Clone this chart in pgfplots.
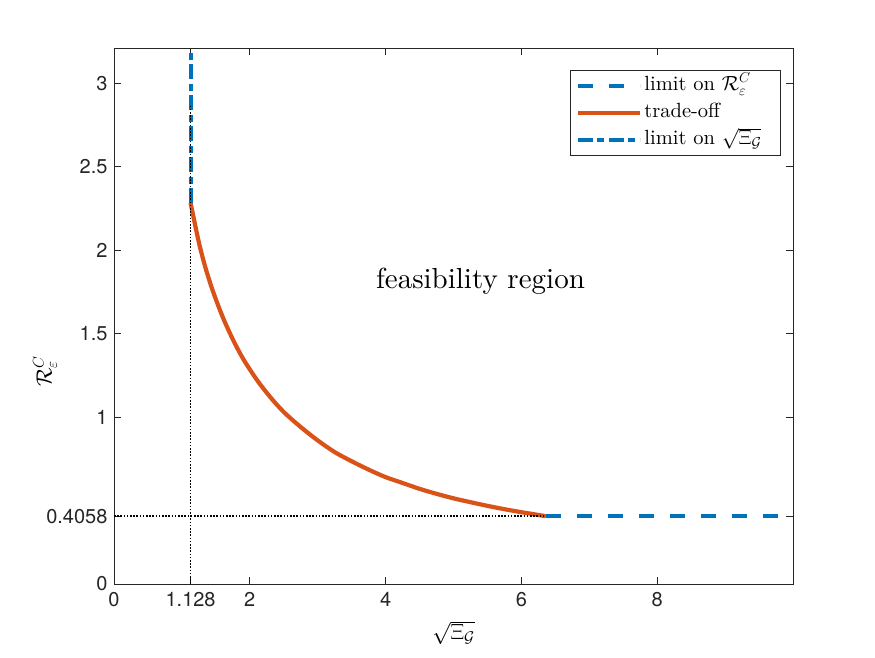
\RequirePackage{fix-cm}
\documentclass[border=0pt]{standalone}
\usepackage{fontspec}
\setmainfont{lmroman10-regular.otf}[BoldFont=lmroman10-bold.otf, ItalicFont=lmroman10-italic.otf]
\usepackage{pgfplots}
\pgfplotsset{compat=1.18}
\newfontfamily\heros{TeX Gyre Heros}
\definecolor{mblue}{rgb}{0,0.447,0.741}
\definecolor{morange}{rgb}{0.85,0.325,0.098}
\definecolor{axgray}{rgb}{0.15,0.15,0.15}

\begin{document}
\begin{tikzpicture}
\path[use as bounding box] (-114pt,-73pt) rectangle (761pt,584pt);
\begin{axis}[
  at={(0pt,0pt)}, anchor=south west,
  scale only axis, width=679pt, height=536pt,
  xmin=0, xmax=10, ymin=0, ymax=3.21,
  xtick={0,1.128,2,4,6,8},
  xticklabels={0,1.128,2,4,6,8},
  ytick={0,0.4058,1,1.5,2,2.5,3},
  yticklabels={0,0.4058,1,1.5,2,2.5,3},
  tick align=inside, major tick length=7pt,
  axis line style={axgray, line width=0.8pt},
  every tick/.style={axgray, line width=0.8pt},
  tick label style={font=\heros\fontsize{20}{24}\selectfont, text=axgray},
  xticklabel style={yshift=-5pt},
  yticklabel style={xshift=-3pt},
  xlabel={$\sqrt{\Xi_{\mathcal{G}}}$},
  xlabel style={font=\fontsize{22}{26}\selectfont, at={(axis description cs:0.5,-0.0914)}, anchor=center},
  ylabel={$\mathcal{R}^C_\varepsilon$},
  ylabel style={font=\fontsize{22}{26}\selectfont, at={(axis description cs:-0.1016,0.397)}, anchor=center},
  legend style={at={(rel axis cs:0.982,0.959)}, anchor=north east,
    draw=axgray, line width=0.8pt, fill=white, inner sep=2pt, row sep=0pt,
    font=\fontsize{20.5}{24}\selectfont,
    nodes={inner sep=2pt, text height=16pt, text depth=7pt, text width=132pt}},
  legend cell align=left,
  legend image code/.code={\path (-4pt,0pt); \draw[#1] (0pt,0pt) -- (62pt,0pt);},
]
% lower limit on the cost
\addplot[mblue, line width=4pt, dash pattern=on 15pt off 16pt]
  coordinates {(6.36,0.4058) (10,0.4058)};
\addlegendentry{limit on $\mathcal{R}^C_\varepsilon$}
% trade-off curve
\addplot[morange, line width=4.2pt, line join=round, smooth, tension=0.5] coordinates {
  (1.128,2.283) (1.2,2.14) (1.265,2.02) (1.35,1.89) (1.46,1.75)
  (1.6,1.60) (1.75,1.465) (1.9,1.35) (2.1,1.225) (2.3,1.12)
  (2.5,1.03) (2.75,0.94) (3.0,0.86) (3.25,0.79) (3.5,0.735)
  (3.75,0.685) (4.0,0.64) (4.25,0.605) (4.5,0.57) (4.75,0.54)
  (5.0,0.513) (5.25,0.49) (5.5,0.468) (5.75,0.448) (6.0,0.43)
  (6.2,0.417) (6.36,0.4058)};
\addlegendentry{trade-off}
% lower limit on the distortion
\addplot[mblue, line width=4pt, dash pattern=on 15pt off 4pt on 7pt off 5pt]
  coordinates {(1.128,2.283) (1.128,3.21)};
\addlegendentry{limit on $\sqrt{\Xi_{\mathcal{G}}}$}
% guide lines
\addplot[black, line width=1.6pt, dash pattern=on 1.6pt off 1.6pt, forget plot]
  coordinates {(0,0.4058) (6.36,0.4058)};
\addplot[black, line width=1.6pt, dash pattern=on 1.6pt off 1.6pt, forget plot]
  coordinates {(1.128,0) (1.128,2.87)};
\node[anchor=base, font=\fontsize{29}{34}\selectfont] at (axis cs:5.397,1.772) {feasibility region};
\end{axis}
\end{tikzpicture}
\end{document}
